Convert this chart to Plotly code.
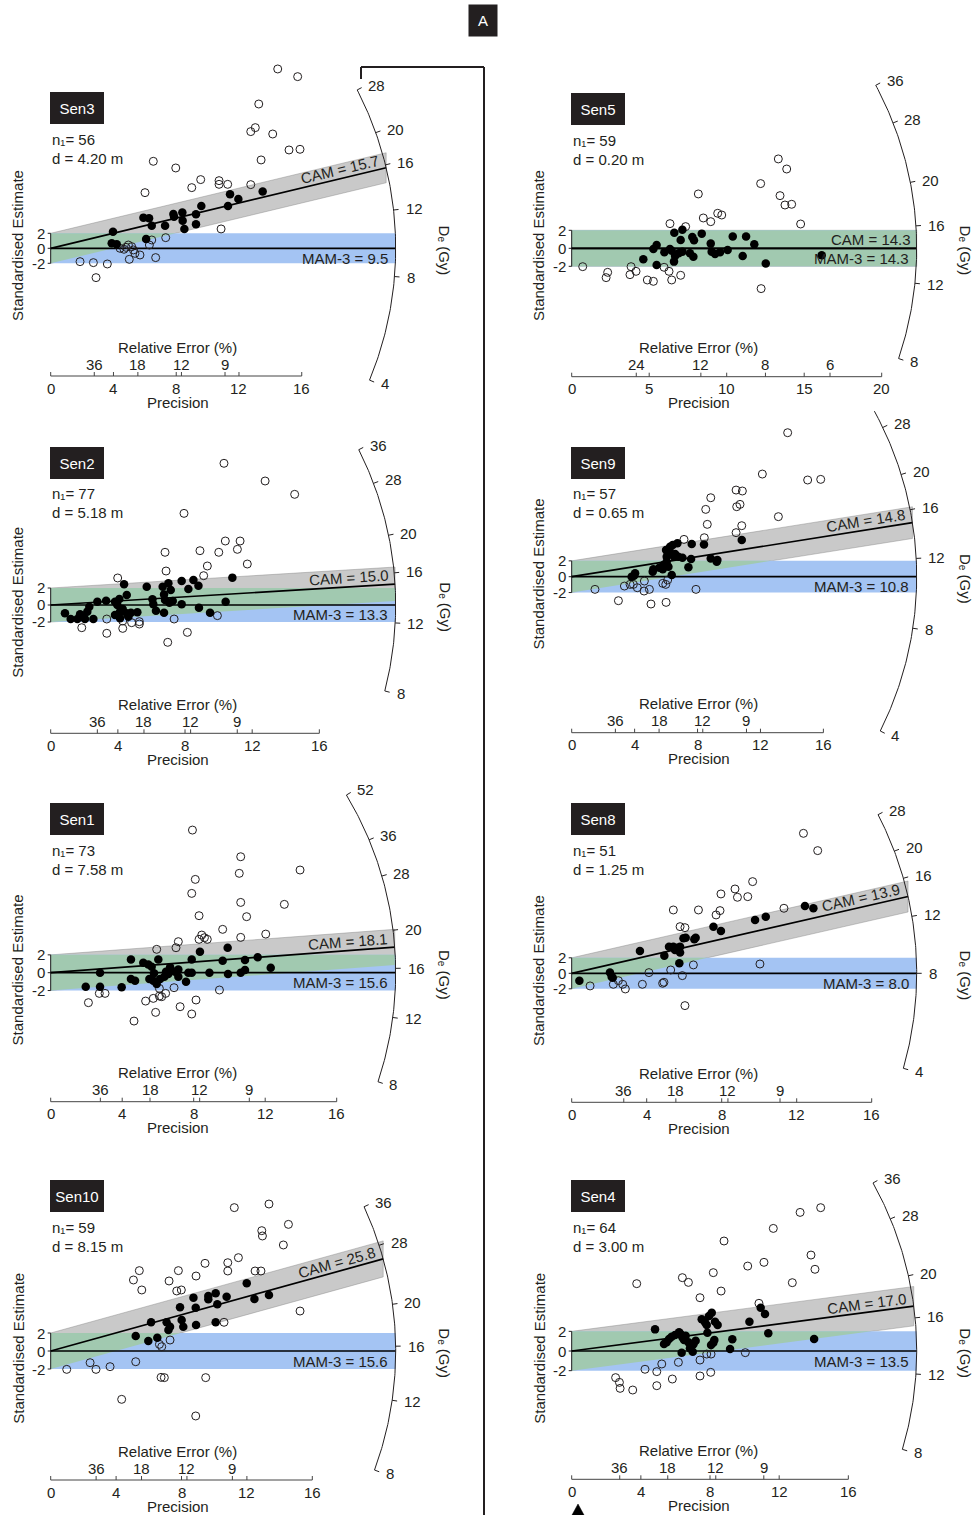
import math
import plotly.graph_objects as go

# ---------------- data ----------------
panel_names = ["Sen3", "Sen5", "Sen2", "Sen9", "Sen1", "Sen8", "Sen10", "Sen4"]
n_aliquots = [56, 59, 77, 57, 73, 51, 59, 64]
depth_m = ["4.20", "0.20", "5.18", "0.65", "7.58", "1.25", "8.15", "3.00"]
cam_gy = [15.7, 14.3, 15.0, 14.8, 18.1, 13.9, 25.8, 17.0]
mam3_gy = [9.5, 14.3, 13.3, 10.8, 15.6, 8.0, 15.6, 13.5]
de_ticks = [
    [4, 8, 12, 16, 20, 28],
    [8, 12, 16, 20, 28, 36],
    [8, 12, 16, 20, 28, 36],
    [4, 8, 12, 16, 20, 28],
    [8, 12, 16, 20, 28, 36, 52],
    [4, 8, 12, 16, 20, 28],
    [8, 12, 16, 20, 28, 36],
    [8, 12, 16, 20, 28, 36],
]
de_arc_range = [[4, 28], [8, 36], [8, 36], [4, 32], [8, 52], [4, 28], [8, 36], [8, 36]]
precision_ticks = [
    [0, 4, 8, 12, 16], [0, 5, 10, 15, 20], [0, 4, 8, 12, 16], [0, 4, 8, 12, 16],
    [0, 4, 8, 12, 16], [0, 4, 8, 12, 16], [0, 4, 8, 12, 16], [0, 4, 8, 12, 16],
]
rel_error_ticks = [
    [36, 18, 12, 9], [24, 12, 8, 6], [36, 18, 12, 9], [36, 18, 12, 9],
    [36, 18, 12, 9], [36, 18, 12, 9], [36, 18, 12, 9], [36, 18, 12, 9],
]

sen3_open_prec = [14.47, 15.74, 13.26, 12.75, 13.04, 14.15, 15.19, 15.89, 6.54, 7.97, 13.41, 6.01, 8.99, 9.56, 10.73, 10.73, 11.28, 12.75, 10.86, 7.33, 6.44, 6.29, 4.95, 4.80, 4.67, 5.27, 5.37, 5.69, 5.01, 6.69, 1.87, 2.72, 3.61, 2.89, 4.42, 5.16]
sen3_open_std = [23.91, 22.89, 19.24, 15.56, 16.09, 15.24, 13.11, 13.20, 11.60, 10.71, 11.78, 7.42, 8.09, 9.16, 9.02, 8.53, 8.53, 8.49, 2.58, 1.42, 1.11, 0.44, 0.44, 0.13, -0.13, -0.22, -0.67, -0.89, -1.47, -1.24, -1.78, -1.91, -2.09, -3.91, 0.00, 0.22]
sen3_fill_prec = [3.97, 3.89, 4.21, 5.91, 6.27, 6.44, 6.08, 7.29, 7.82, 7.86, 8.39, 8.41, 8.52, 9.26, 9.26, 9.60, 11.30, 11.43, 11.96, 13.51]
sen3_fill_std = [2.22, 0.67, 0.53, 4.09, 4.00, 3.02, 1.24, 3.02, 4.58, 4.22, 4.76, 3.69, 2.58, 4.53, 3.20, 5.64, 5.64, 7.20, 6.58, 7.56]

sen5_open_prec = [13.33, 13.87, 12.19, 13.44, 13.76, 14.19, 14.77, 8.17, 8.49, 8.97, 9.42, 9.68, 6.34, 7.35, 12.22, 0.71, 2.32, 2.22, 3.83, 3.76, 4.15, 4.88, 5.27, 5.96, 6.28, 6.45, 7.03]
sen5_open_std = [9.93, 8.81, 7.19, 5.85, 4.81, 4.89, 2.70, 6.04, 3.37, 2.96, 3.89, 3.70, 2.74, 2.41, -4.48, -2.04, -2.67, -3.26, -2.04, -2.93, -2.56, -3.52, -3.67, -2.11, -2.56, -3.52, -3.00]
sen5_fill_prec = [6.62, 7.14, 7.03, 7.78, 7.89, 8.39, 8.97, 10.39, 11.25, 11.78, 4.62, 5.27, 5.48, 5.98, 6.34, 6.60, 6.67, 6.90, 7.14, 7.63, 7.85, 9.03, 9.25, 9.57, 10.06, 11.03, 12.52, 16.13, 5.48, 6.45]
sen5_fill_std = [1.74, 2.07, 0.93, 1.26, 0.89, 1.63, 0.52, 1.30, 1.30, 0.44, -1.22, -0.07, 0.37, -0.44, -0.07, -1.48, -0.85, -0.56, -0.37, -0.56, -0.93, -0.37, -0.63, -0.44, -0.19, -0.85, -1.70, -0.78, -1.85, -0.26]

sen2_open_prec = [10.32, 12.77, 14.53, 7.94, 10.40, 11.28, 11.12, 8.89, 10.01, 6.81, 9.33, 11.71, 6.87, 3.99, 9.11, 9.93, 7.35, 3.34, 4.29, 4.82, 5.28, 5.28, 1.85, 3.34, 4.29, 8.14, 6.97]
sen2_open_std = [16.67, 14.59, 13.02, 10.78, 7.53, 7.53, 6.55, 6.39, 6.20, 6.20, 4.59, 4.82, 4.00, 3.18, 3.45, -1.25, -1.65, -1.65, -1.88, -2.08, -1.96, -2.24, -2.67, -3.33, -2.75, -3.22, -4.39]
sen2_fill_prec = [0.85, 1.19, 1.59, 1.75, 1.85, 2.04, 2.18, 2.30, 2.54, 2.78, 3.30, 3.83, 3.97, 4.09, 3.83, 4.13, 4.29, 4.37, 4.53, 4.63, 4.78, 5.16, 5.72, 6.06, 6.11, 6.27, 6.67, 6.75, 6.81, 7.01, 7.15, 7.07, 7.27, 6.75, 7.80, 7.80, 8.20, 8.50, 8.80, 8.83, 9.49, 10.42, 10.82, 4.53, 4.13]
sen2_fill_std = [-0.98, -1.65, -1.65, -1.10, -1.37, -1.65, -0.78, -0.20, -1.65, 0.39, 0.51, 0.39, 0.00, 0.71, -1.18, -0.78, -0.47, 2.43, 1.18, -1.37, -0.90, -0.86, 2.16, 0.67, 0.08, -0.67, 2.16, 1.25, 0.59, 2.55, 1.76, 0.27, 0.47, -0.90, 2.82, 0.08, 1.88, 2.94, 2.27, -0.31, -0.90, 0.39, 3.22, -0.98, -1.57]

sen9_open_prec = [13.73, 12.12, 15.00, 15.83, 10.45, 10.85, 8.84, 8.52, 10.49, 10.70, 13.14, 8.62, 10.81, 10.45, 8.43, 7.14, 1.48, 3.35, 3.71, 3.92, 4.17, 4.60, 4.94, 4.62, 5.79, 5.98, 6.10, 2.97, 5.04, 6.00, 7.90]
sen9_open_std = [18.18, 12.96, 12.21, 12.29, 10.94, 10.82, 9.97, 8.50, 8.84, 9.13, 7.58, 6.61, 6.44, 5.56, 4.92, 4.71, -1.60, -1.18, -0.97, -0.97, -1.39, -1.81, -1.60, -0.55, -0.84, -0.97, -0.42, -3.03, -3.45, -3.24, -1.60]
sen9_fill_prec = [3.81, 4.03, 3.96, 5.15, 5.19, 5.57, 5.83, 6.15, 6.36, 6.04, 6.04, 6.00, 6.10, 6.25, 6.42, 6.57, 6.72, 6.78, 7.04, 7.59, 7.63, 7.42, 8.41, 8.84, 9.22, 9.26, 10.81, 6.21, 6.51, 5.79]
sen9_fill_std = [0.00, 0.42, 0.13, 0.63, 0.93, 1.14, 1.47, 1.26, 0.21, 1.89, 2.53, 3.37, 3.03, 3.79, 4.00, 2.86, 4.21, 2.53, 2.40, 2.23, 4.12, 1.18, 4.08, 2.31, 1.89, 2.10, 4.63, 3.45, 2.53, 0.93]

sen1_open_prec = [7.93, 10.63, 10.55, 13.95, 8.09, 7.89, 10.63, 13.07, 8.30, 10.96, 9.62, 10.63, 12.03, 8.45, 8.30, 8.60, 8.76, 7.14, 7.01, 5.93, 2.11, 2.72, 3.04, 4.66, 5.31, 5.74, 5.87, 6.08, 6.21, 6.43, 6.90, 7.24, 7.89, 8.13, 9.44, 6.08]
sen1_open_std = [15.99, 13.00, 11.14, 11.51, 10.46, 8.89, 7.88, 7.66, 6.39, 6.28, 4.86, 3.96, 4.33, 4.22, 3.74, 3.92, 3.74, 3.48, 2.80, 2.62, -3.36, -2.32, -2.32, -5.42, -3.18, -2.88, -4.45, -2.62, -2.69, -2.32, -1.68, -3.81, -4.63, -3.06, -1.94, -1.76]
sen1_fill_prec = [1.96, 2.76, 2.76, 3.97, 4.49, 4.49, 4.72, 5.18, 5.46, 5.65, 5.52, 5.74, 5.93, 6.02, 6.12, 6.36, 6.58, 6.68, 6.45, 6.71, 7.14, 7.14, 7.57, 7.89, 7.70, 7.89, 8.88, 9.62, 9.90, 9.92, 10.63, 10.87, 10.87, 11.58, 12.31, 8.35, 5.78, 6.96]
sen1_fill_std = [-1.57, 0.00, -1.57, -1.64, 1.49, -0.71, -0.90, 1.12, 0.93, 0.67, -0.71, -0.90, -1.27, 1.49, -0.71, -0.45, -0.15, 0.60, 0.11, 0.30, 0.37, -0.45, -1.01, 1.49, 0.00, 0.00, 0.00, 1.35, 2.80, -0.15, 0.00, 0.30, 1.42, 1.72, 0.56, 2.35, -0.07, 0.11]

sen8_open_prec = [12.36, 13.12, 9.65, 8.71, 7.96, 8.84, 9.39, 5.42, 6.76, 7.91, 7.70, 11.32, 5.78, 6.04, 10.04, 6.49, 5.28, 4.12, 5.90, 3.77, 4.85, 4.92, 0.98, 2.22, 2.49, 2.72, 2.86, 6.04]
sen8_open_std = [18.06, 15.83, 11.83, 10.88, 10.24, 9.81, 9.89, 8.17, 8.17, 8.09, 7.53, 8.39, 6.02, 5.89, 1.20, 1.08, 0.43, 0.09, -0.30, -1.42, -1.29, -1.16, -1.63, -1.42, -0.95, -1.42, -2.02, -4.17]
sen8_fill_prec = [0.41, 2.04, 2.13, 2.19, 3.64, 4.94, 5.19, 5.42, 5.51, 5.64, 5.78, 5.78, 5.74, 5.96, 6.08, 6.54, 6.61, 7.56, 7.96, 9.78, 10.35, 12.44, 12.89]
sen8_fill_std = [-0.95, 0.09, -0.43, -0.56, 2.88, 2.28, 3.44, 3.44, 3.01, 3.31, 3.44, 2.67, 1.29, 4.52, 4.60, 4.39, 4.60, 6.02, 5.46, 6.88, 7.31, 8.69, 8.39]

sen10_open_prec = [11.23, 13.35, 14.54, 12.91, 12.95, 14.23, 11.48, 10.83, 10.83, 12.50, 12.86, 9.44, 7.81, 8.89, 5.42, 5.06, 5.57, 7.24, 7.71, 7.99, 15.25, 10.60, 7.30, 6.65, 6.79, 2.41, 0.98, 2.77, 3.63, 5.20, 6.75, 6.95, 9.48, 4.34, 8.87]
sen10_open_std = [15.93, 16.33, 14.07, 13.37, 12.78, 11.78, 10.37, 9.81, 8.89, 8.89, 8.89, 9.74, 8.93, 8.33, 8.93, 7.89, 6.78, 7.78, 6.67, 6.78, 4.44, 3.19, 1.22, 0.74, 0.48, -1.30, -2.04, -2.04, -1.74, -1.19, -2.93, -2.96, -2.96, -5.37, -7.22]
sen10_fill_prec = [5.20, 5.97, 6.52, 6.14, 7.09, 7.20, 7.30, 8.01, 8.11, 7.91, 8.73, 8.87, 8.89, 9.64, 9.64, 10.09, 10.19, 10.09, 10.76, 11.99, 12.46, 13.35]
sen10_fill_std = [1.67, 1.11, 1.48, 3.19, 3.19, 2.33, 2.70, 3.44, 2.70, 4.85, 5.93, 4.81, 2.89, 6.11, 5.74, 6.41, 5.19, 3.19, 6.04, 7.52, 5.78, 6.22]

sen4_open_prec = [14.40, 13.21, 11.66, 8.81, 13.84, 14.07, 10.18, 11.12, 8.19, 6.40, 6.75, 12.76, 3.76, 8.64, 7.42, 10.83, 10.04, 7.42, 7.81, 8.06, 6.17, 5.21, 4.24, 4.92, 2.54, 2.76, 2.80, 3.53, 4.92, 5.82, 7.42, 8.04]
sen4_open_std = [14.58, 14.10, 12.47, 11.19, 9.76, 8.31, 8.64, 9.02, 7.97, 7.46, 6.98, 6.95, 6.85, 6.10, 5.42, 4.85, -0.17, -0.92, -0.31, -0.31, -1.15, -1.32, -1.86, -2.10, -2.71, -3.19, -3.80, -3.97, -3.53, -2.85, -2.54, -2.17]
sen4_fill_prec = [4.82, 5.34, 5.49, 5.63, 5.78, 5.98, 6.21, 6.30, 6.40, 6.50, 6.59, 6.75, 6.84, 7.00, 7.04, 7.17, 7.52, 7.71, 7.81, 7.94, 7.85, 8.10, 8.06, 8.19, 8.25, 8.44, 8.29, 9.16, 9.29, 10.28, 10.93, 11.18, 11.37, 14.02, 6.36]
sen4_fill_std = [2.20, 0.71, 0.88, 1.22, 1.46, 1.63, 1.90, 1.73, 1.39, 1.12, 1.56, 0.88, 0.27, -0.07, 0.68, 1.05, 3.22, 2.92, 2.64, 3.56, 1.86, 3.90, 0.61, 0.85, 1.12, 2.64, 2.98, 0.20, 1.19, 2.98, 4.41, 3.76, 1.80, 1.22, -0.17]

open_prec = [sen3_open_prec, sen5_open_prec, sen2_open_prec, sen9_open_prec,
             sen1_open_prec, sen8_open_prec, sen10_open_prec, sen4_open_prec]
open_std = [sen3_open_std, sen5_open_std, sen2_open_std, sen9_open_std,
            sen1_open_std, sen8_open_std, sen10_open_std, sen4_open_std]
fill_prec = [sen3_fill_prec, sen5_fill_prec, sen2_fill_prec, sen9_fill_prec,
             sen1_fill_prec, sen8_fill_prec, sen10_fill_prec, sen4_fill_prec]
fill_std = [sen3_fill_std, sen5_fill_std, sen2_fill_std, sen9_fill_std,
            sen1_fill_std, sen8_fill_std, sen10_fill_std, sen4_fill_std]

# ---------------- layout / style ----------------
W, H = 974, 1515
R_ARC = 345.0
FONT = "Liberation Sans, Arial, Helvetica, DejaVu Sans, sans-serif"
INK = "#231f20"
GREY = "rgb(201,201,201)"
BLUE = "rgb(164,196,243)"
GREEN = "rgb(161,201,176)"
FS = 15

# pixel geometry: origin x, origin y, px per precision unit, px per std unit,
# precision-axis y, label box top
geom = [
    (50.7, 248.3, 15.69, 7.50, 376.0, 92),
    (571.7, 248.3, 15.50, 9.00, 376.7, 93),
    (50.7, 605.0, 16.79, 8.50, 733.3, 447),
    (571.7, 576.7, 15.73, 7.92, 732.7, 447),
    (50.7, 972.7, 17.875, 8.92, 1101.7, 803),
    (571.7, 973.3, 18.75, 7.75, 1102.3, 803),
    (50.7, 1351.0, 16.35, 9.00, 1480.0, 1180),
    (571.7, 1351.0, 17.29, 9.83, 1479.3, 1180),
]
col_px = [(0, 474), (512, 974)]
row_px = [(30, 420), (398, 790), (778, 1160), (1150, 1515)]

CW = {'C': .722, 'A': .667, 'M': .833, ' ': .278, '=': .584, '.': .278, '-': .333}


def text_w(t, size=FS):
    return sum(CW.get(c, .556) for c in t) * size


fig = go.Figure()
annotations = []
shapes = []


def add_line(xs, ys, xa, ya, color=INK, width=1.0):
    fig.add_trace(go.Scatter(x=xs, y=ys, mode="lines", line=dict(color=color, width=width),
                             hoverinfo="skip", showlegend=False, xaxis=xa, yaxis=ya))


def add_poly(xs, ys, xa, ya, fill, lcol=None, lw=0):
    fig.add_trace(go.Scatter(x=xs, y=ys, mode="lines", fill="toself", fillcolor=fill,
                             line=dict(color=lcol or fill, width=lw),
                             hoverinfo="skip", showlegend=False, xaxis=xa, yaxis=ya))


for i, name in enumerate(panel_names):
    ox, oy, sx, sy, axy, boxtop = geom[i]
    col, row = i % 2, i // 2
    k = i + 1
    xa = "x" if k == 1 else f"x{k}"
    ya = "y" if k == 1 else f"y{k}"
    xl = "xaxis" if k == 1 else f"xaxis{k}"
    yl = "yaxis" if k == 1 else f"yaxis{k}"
    px0, px1 = col_px[col]
    pyt, pyb = row_px[row]
    fig.update_layout(**{
        xl: dict(domain=[px0 / W, px1 / W], range=[(px0 - ox) / sx, (px1 - ox) / sx],
                 visible=False, fixedrange=True, anchor=ya),
        yl: dict(domain=[1 - pyb / H, 1 - pyt / H], range=[(oy - pyb) / sy, (oy - pyt) / sy],
                 visible=False, fixedrange=True, anchor=xa),
    })

    def P(px, py):
        return (px - ox) / sx, (oy - py) / sy

    def D(r, th):
        return r * math.cos(th) / sx, r * math.sin(th) / sy

    mam = mam3_gy[i]
    cam = cam_gy[i]
    s = math.log(cam / mam)

    def theta(v):
        return math.atan2(sy * math.log(v / mam), sx)

    thc = theta(cam)
    xe_c = R_ARC * math.cos(thc) / sx
    xe_m = R_ARC / sx

    # bands
    add_poly([0, xe_c, xe_c, 0, 0], [2, s * xe_c + 2, s * xe_c - 2, -2, 2], xa, ya, GREY,
             "rgba(130,130,130,0.7)", 0.6)
    add_poly([0, xe_m, xe_m, 0, 0], [2, 2, -2, -2, 2], xa, ya, BLUE)
    xe = min(xe_c, xe_m)
    if s <= 1e-9:
        gx, gy = [0, xe, xe, 0, 0], [-2, -2, 2, 2, -2]
    else:
        xc = 4.0 / s
        if xc <= xe:
            gx, gy = [0, xc, 0, 0], [-2, 2, 2, -2]
        else:
            gx, gy = [0, xe, xe, 0, 0], [-2, s * xe - 2, 2, 2, -2]
    add_poly(gx, gy, xa, ya, GREEN)

    # y scale (-2..2)
    ytx, yty = [0, 0, None], [-2, 2, None]
    for v in (-2, 0, 2):
        ytx += [0, -3 / sx, None]
        yty += [v, v, None]
        ax_, ay_ = P(ox - 4, oy - v * sy)
        annotations.append(dict(x=ax_, y=ay_, xref=xa, yref=ya, text=str(v), showarrow=False,
                                xanchor="right", yanchor="middle", font=dict(size=FS, color=INK)))
    add_line(ytx, yty, xa, ya, INK, 1.0)

    # MAM and CAM lines
    add_line([0, xe_m], [0, 0], xa, ya, "#000000", 1.7)
    add_line([0, xe_c], [0, s * xe_c], xa, ya, "#000000", 1.7)

    # radial De axis
    lo, hi = de_arc_range[i]
    t0, t1 = theta(lo), theta(hi)
    arcx, arcy = [], []
    for j in range(121):
        th = t0 + (t1 - t0) * j / 120
        a, b = D(R_ARC, th)
        arcx.append(a)
        arcy.append(b)
    add_line(arcx, arcy, xa, ya, INK, 1.0)
    tkx, tky = [], []
    for v in de_ticks[i]:
        th = theta(v)
        a0, b0 = D(R_ARC, th)
        a1, b1 = D(R_ARC + 5, th)
        tkx += [a0, a1, None]
        tky += [b0, b1, None]
        lx, ly = D(R_ARC + 10, th)
        annotations.append(dict(x=lx, y=ly, xref=xa, yref=ya, text=str(v), showarrow=False,
                                xanchor="left", yanchor="middle", font=dict(size=FS, color=INK)))
    add_line(tkx, tky, xa, ya, INK, 1.0)

    # precision axis
    yax = (oy - axy) / sy
    xmax = precision_ticks[i][-1]
    pax, pay = [0, xmax, None], [yax, yax, None]
    for t in precision_ticks[i]:
        pax += [t, t, None]
        pay += [yax, yax + 4 / sy, None]
        annotations.append(dict(x=t, y=(oy - (axy + 12)) / sy, xref=xa, yref=ya, text=str(t),
                                showarrow=False, xanchor="center", yanchor="middle",
                                font=dict(size=FS, color=INK)))
    for re_ in rel_error_ticks[i]:
        p = 100.0 / re_
        pax += [p, p, None]
        pay += [yax, yax + 4 / sy, None]
        annotations.append(dict(x=p, y=(oy - (axy - 12)) / sy, xref=xa, yref=ya, text=str(re_),
                                showarrow=False, xanchor="center", yanchor="middle",
                                font=dict(size=FS, color=INK)))
    add_line(pax, pay, xa, ya, "#444444", 1.0)
    tx, ty = P(ox + 127, axy - 29)
    annotations.append(dict(x=tx, y=ty, xref=xa, yref=ya, text="Relative Error (%)", showarrow=False,
                            xanchor="center", yanchor="middle", font=dict(size=FS, color=INK)))
    tx, ty = P(ox + 127, axy + 26)
    annotations.append(dict(x=tx, y=ty, xref=xa, yref=ya, text="Precision", showarrow=False,
                            xanchor="center", yanchor="middle", font=dict(size=FS, color=INK)))

    # axis titles
    tx, ty = P(ox - 33, oy - 3)
    annotations.append(dict(x=tx, y=ty, xref=xa, yref=ya, text="Standardised Estimate", showarrow=False,
                            textangle=-90, xanchor="center", yanchor="middle",
                            font=dict(size=FS, color=INK)))
    tx, ty = P(ox + 394, oy + 2)
    annotations.append(dict(x=tx, y=ty, xref=xa, yref=ya, text="D\u2091 (Gy)", showarrow=False,
                            textangle=90, xanchor="center", yanchor="middle",
                            font=dict(size=FS, color=INK)))

    # CAM / MAM labels
    cam_txt = f"CAM = {cam:.1f}"
    w = text_w(cam_txt)
    lc = R_ARC - 6 - w / 2
    cx = lc * math.cos(thc) - 9 * math.sin(thc)
    cy = lc * math.sin(thc) + 9 * math.cos(thc)
    annotations.append(dict(x=cx / sx, y=cy / sy, xref=xa, yref=ya, text=cam_txt, showarrow=False,
                            textangle=-math.degrees(thc), xanchor="center", yanchor="middle",
                            font=dict(size=FS, color=INK)))
    annotations.append(dict(x=(R_ARC - 6) / sx, y=-10 / sy, xref=xa, yref=ya,
                            text=f"MAM-3 = {mam:.1f}", showarrow=False,
                            xanchor="right", yanchor="middle", font=dict(size=FS, color=INK)))

    # sample label box and info
    bx = ox - 0.7
    tx, ty = P(bx, boxtop)
    annotations.append(dict(x=tx, y=ty, xref=xa, yref=ya, text=name, showarrow=False,
                            xanchor="left", yanchor="top", width=54, height=32,
                            bgcolor=INK, borderpad=0, borderwidth=0, align="center", valign="middle",
                            font=dict(size=FS, color="white")))
    tx, ty = P(bx, boxtop + 47)
    annotations.append(dict(x=tx, y=ty, xref=xa, yref=ya, text=f"n\u2081= {n_aliquots[i]}",
                            showarrow=False, xanchor="left", yanchor="middle",
                            font=dict(size=FS, color=INK)))
    tx, ty = P(bx, boxtop + 66)
    annotations.append(dict(x=tx, y=ty, xref=xa, yref=ya, text=f"d = {depth_m[i]} m",
                            showarrow=False, xanchor="left", yanchor="middle",
                            font=dict(size=FS, color=INK)))

    # data points
    fig.add_trace(go.Scatter(x=open_prec[i], y=open_std[i], mode="markers",
                             marker=dict(symbol="circle-open", size=8, color=INK, line=dict(width=1)),
                             hoverinfo="skip", showlegend=False, xaxis=xa, yaxis=ya, cliponaxis=False))
    fig.add_trace(go.Scatter(x=fill_prec[i], y=fill_std[i], mode="markers",
                             marker=dict(symbol="circle", size=8.5, color="#000000"),
                             hoverinfo="skip", showlegend=False, xaxis=xa, yaxis=ya, cliponaxis=False))


def pp(px, py):
    return px / W, 1 - py / H


# central bracket
for (a, b), (c, d) in [((361, 79), (361, 67)), ((361, 67), (484, 67)), ((484, 67), (484, 1515))]:
    x0, y0 = pp(a, b)
    x1, y1 = pp(c, d)
    shapes.append(dict(type="line", xref="paper", yref="paper", x0=x0, y0=y0, x1=x1, y1=y1,
                       line=dict(color=INK, width=2)))

# "A" tag
ax_, ay_ = pp(483, 20)
annotations.append(dict(x=ax_, y=ay_, xref="paper", yref="paper", text="A", showarrow=False,
                        xanchor="center", yanchor="middle", width=28, height=31, bgcolor=INK,
                        borderpad=0, font=dict(size=FS, color="white")))

# arrow marker at bottom
p1, p2, p3 = pp(572, 1515), pp(578, 1504), pp(584, 1515)
shapes.append(dict(type="path", xref="paper", yref="paper",
                   path=f"M {p1[0]},{p1[1]} L {p2[0]},{p2[1]} L {p3[0]},{p3[1]} Z",
                   fillcolor="#000000", line=dict(color="#000000", width=0.5)))

fig.update_layout(width=W, height=H, margin=dict(l=0, r=0, t=0, b=0, pad=0),
                  paper_bgcolor="white", plot_bgcolor="rgba(0,0,0,0)", showlegend=False,
                  font=dict(family=FONT, size=FS, color=INK),
                  annotations=annotations, shapes=shapes)

fig.write_html("out.html", config={"displayModeBar": False})
